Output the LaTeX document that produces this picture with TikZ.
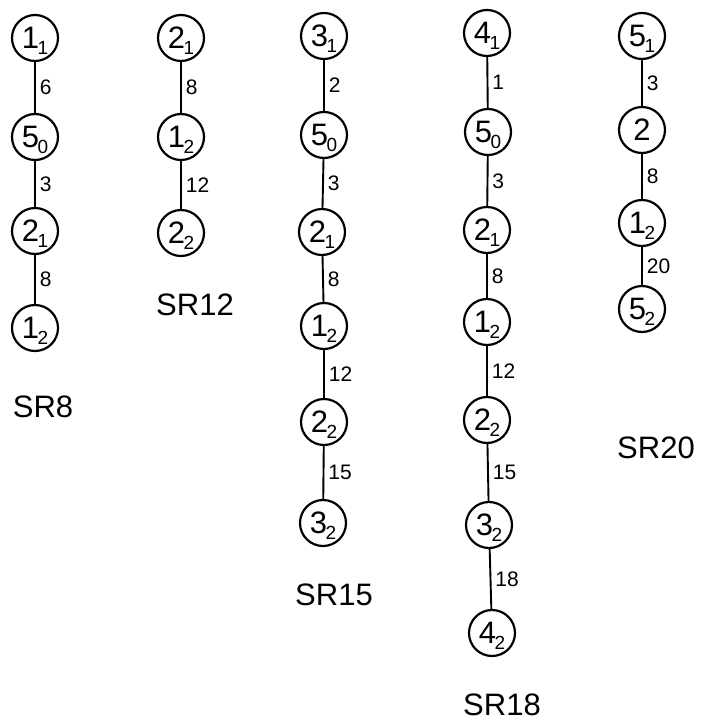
\documentclass[tikz,border=0pt]{standalone}
\usepackage{fontspec}
\setmainfont{Liberation Sans}
% vertex label: main digit with a lowered index
\newcommand\vlab[2]{#1\kern-1.5pt\smash{\raisebox{-6pt}{\fontsize{19}{19}\selectfont #2}}}
\tikzset{
  vtx/.style={circle,draw,line width=2.2pt,minimum size=46pt,inner sep=0pt,
              font=\fontsize{31}{31}\selectfont},
  link/.style={line width=1.9pt},
  wt/.style={right,inner sep=4pt,font=\fontsize{21}{21}\selectfont},
  title/.style={font=\fontsize{31}{31}\selectfont}
}
\begin{document}
\begin{tikzpicture}[x=1pt,y=-1pt]
\useasboundingbox (0,0) rectangle (702,723);

% SR8
\node[vtx] (a1) at (35,38)  {\vlab{1}{1}};
\node[vtx] (a2) at (35,137) {\vlab{5}{0}};
\node[vtx] (a3) at (35,231) {\vlab{2}{1}};
\node[vtx] (a4) at (35,328) {\vlab{1}{2}};
\draw[link] (a1) -- node[wt] {6} (a2);
\draw[link] (a2) -- node[wt] {3} (a3);
\draw[link] (a3) -- node[wt] {8} (a4);
\node[title] (ta) at (43,407) {SR8};

% SR12
\node[vtx] (b1) at (181,38)  {\vlab{2}{1}};
\node[vtx] (b2) at (181,137) {\vlab{1}{2}};
\node[vtx] (b3) at (181,233) {\vlab{2}{2}};
\draw[link] (b1) -- node[wt] {8} (b2);
\draw[link] (b2) -- node[wt] {12} (b3);
\node[title] (tb) at (195,305) {SR12};

% SR15
\node[vtx] (c1) at (324,36)  {\vlab{3}{1}};
\node[vtx] (c2) at (324,135) {\vlab{5}{0}};
\node[vtx] (c3) at (322,232) {\vlab{2}{1}};
\node[vtx] (c4) at (324,326) {\vlab{1}{2}};
\node[vtx] (c5) at (324,422) {\vlab{2}{2}};
\node[vtx] (c6) at (323,523) {\vlab{3}{2}};
\draw[link] (c1) -- node[wt] {2} (c2);
\draw[link] (c2) -- node[wt] {3} (c3);
\draw[link] (c3) -- node[wt] {8} (c4);
\draw[link] (c4) -- node[wt] {12} (c5);
\draw[link] (c5) -- node[wt] {15} (c6);
\node[title] (tc) at (334,595) {SR15};

% SR18
\node[vtx] (d1) at (487,33)  {\vlab{4}{1}};
\node[vtx] (d2) at (488,132) {\vlab{5}{0}};
\node[vtx] (d3) at (487,230) {\vlab{2}{1}};
\node[vtx] (d4) at (487,322) {\vlab{1}{2}};
\node[vtx] (d5) at (487,420) {\vlab{2}{2}};
\node[vtx] (d6) at (489,525) {\vlab{3}{2}};
\node[vtx] (d7) at (492,633) {\vlab{4}{2}};
\draw[link] (d1) -- node[wt] {1} (d2);
\draw[link] (d2) -- node[wt] {3} (d3);
\draw[link] (d3) -- node[wt] {8} (d4);
\draw[link] (d4) -- node[wt] {12} (d5);
\draw[link] (d5) -- node[wt] {15} (d6);
\draw[link] (d6) -- node[wt] {18} (d7);
\node[title] (td) at (502,705) {SR18};

% SR20
\node[vtx] (e1) at (642,36)  {\vlab{5}{1}};
\node[vtx] (e2) at (642,130) {2};
\node[vtx] (e3) at (642,223) {\vlab{1}{2}};
\node[vtx] (e4) at (642,309) {\vlab{5}{2}};
\draw[link] (e1) -- node[wt] {3} (e2);
\draw[link] (e2) -- node[wt] {8} (e3);
\draw[link] (e3) -- node[wt] {20} (e4);
\node[title] (te) at (656,448) {SR20};
\end{tikzpicture}
\end{document}
